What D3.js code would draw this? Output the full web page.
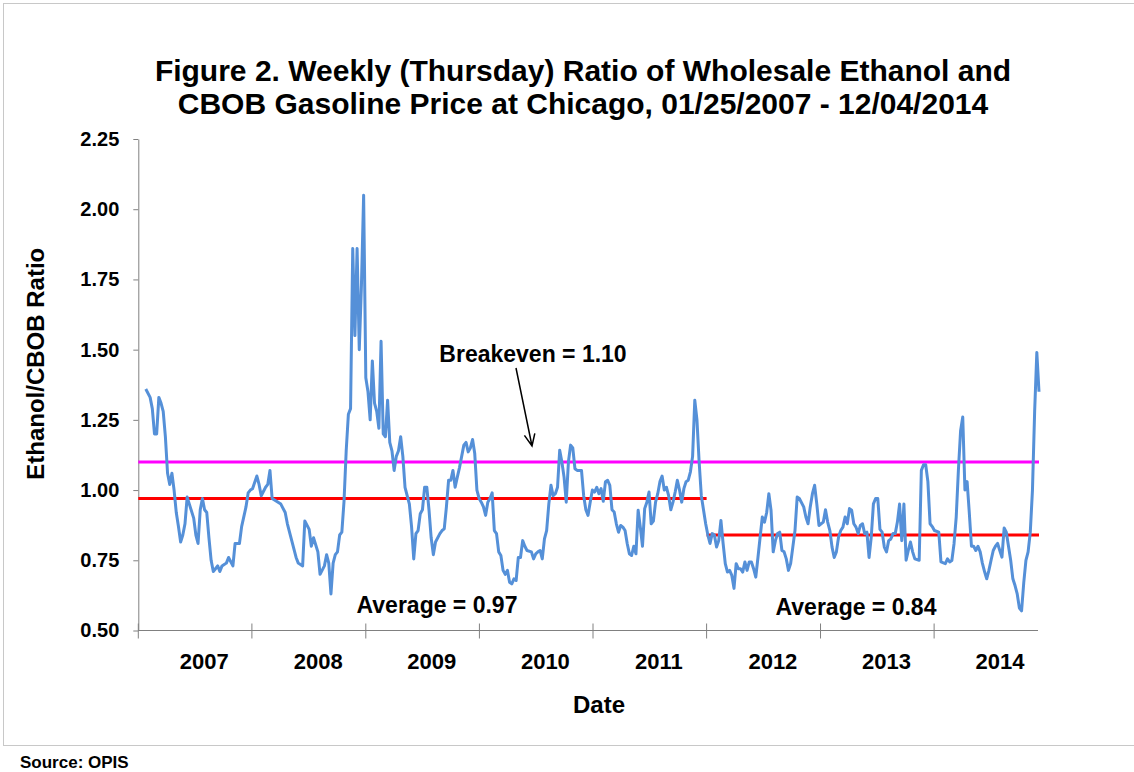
<!DOCTYPE html>
<html>
<head>
<meta charset="utf-8">
<script src="https://cdn.jsdelivr.net/npm/d3@7"></script>
<style>
  body { margin: 0; background: #fff; }
  text { font-family: "Liberation Sans", Arial, sans-serif; font-weight: bold; fill: #000; }
</style>
</head>
<body>
<svg id="chart" width="1134" height="772"></svg>
<script>
// weekly (Thursday) observations, counted in weeks from 01/25/2007
const firstThursday = new Date(2007, 0, 25)
const weekNo = [
  0, 2, 3, 4, 5, 6, 7, 8, 9, 10, 11, 12, 13, 14, 15, 16, 17, 18, 19, 20, 22, 23, 24, 25, 26, 27, 28, 29, 30, 31,
  32, 33, 34, 35, 37, 38, 40, 41, 43, 44, 46, 47, 48, 49, 51, 52, 53, 55, 56, 57, 58, 60, 62, 64, 65, 67, 69, 70,
  72, 73, 75, 76, 77, 79, 80, 82, 83, 84, 85, 86, 87, 88, 89, 90, 91, 92, 93, 94, 95, 96, 97, 98, 99, 100, 101,
  102, 103, 104, 105, 106, 107, 108, 109, 110, 111, 112, 113, 114, 115, 116, 117, 118, 119, 121, 122, 123, 124,
  125, 126, 127, 128, 129, 130, 131, 132, 133, 135, 136, 137, 138, 139, 140, 141, 142, 143, 144, 145, 146, 147,
  148, 149, 150, 151, 152, 153, 154, 155, 156, 157, 158, 159, 160, 161, 162, 163, 164, 165, 166, 167, 168, 169,
  170, 171, 172, 173, 174, 175, 177, 178, 179, 180, 181, 182, 183, 184, 185, 186, 187, 188, 189, 190, 191, 192,
  193, 194, 195, 196, 197, 198, 200, 201, 202, 203, 204, 205, 206, 207, 208, 209, 210, 211, 212, 213, 214, 215,
  216, 217, 218, 219, 220, 221, 222, 223, 224, 225, 226, 227, 228, 229, 230, 231, 232, 233, 234, 235, 236, 237,
  238, 239, 240, 241, 242, 243, 244, 245, 246, 247, 248, 249, 250, 251, 252, 253, 254, 255, 256, 257, 258, 259,
  260, 261, 262, 263, 264, 265, 266, 267, 268, 269, 270, 271, 272, 273, 274, 275, 276, 277, 278, 279, 280, 281,
  282, 283, 284, 285, 286, 287, 288, 289, 290, 291, 292, 293, 294, 295, 296, 297, 298, 299, 300, 302, 303, 304,
  305, 306, 307, 308, 309, 310, 311, 312, 313, 314, 315, 316, 317, 318, 319, 320, 321, 322, 323, 324, 325, 326,
  327, 328, 329, 330, 331, 332, 333, 334, 335, 336, 337, 338, 339, 340, 341, 342, 343, 344, 345, 346, 347, 348,
  349, 350, 351, 352, 353, 355, 356, 357, 358, 359, 360, 361, 362, 364, 365, 367, 368, 369, 370, 371, 372, 373,
  374, 375, 376, 377, 378, 379, 380, 381, 382, 383, 384, 385, 386, 387, 388, 389, 390, 391, 392, 393, 394, 395,
  396, 397, 398, 399, 400, 401, 402, 403, 404, 405, 406, 407, 408, 409, 410
]
const ratio = [
  1.36, 1.33, 1.29, 1.20, 1.20, 1.33, 1.31, 1.28, 1.19, 1.06, 1.02, 1.06, 1.00, 0.92, 0.87, 0.815, 0.84, 0.88, 0.975, 0.95, 0.90, 0.84, 0.81, 0.93, 0.97, 0.93, 0.92, 0.83, 0.75, 0.71,
  0.72, 0.73, 0.71, 0.73, 0.74, 0.76, 0.73, 0.81, 0.81, 0.87, 0.94, 0.99, 1.00, 1.005, 1.05, 1.02, 0.98, 1.01, 1.02, 1.07, 0.97, 0.96, 0.95, 0.92, 0.88, 0.82, 0.76, 0.74,
  0.73, 0.89, 0.86, 0.80, 0.83, 0.78, 0.70, 0.73, 0.77, 0.74, 0.63, 0.74, 0.77, 0.78, 0.84, 0.85, 0.96, 1.14, 1.27, 1.29, 1.86, 1.55, 1.86, 1.50, 1.73, 2.05, 1.40,
  1.35, 1.25, 1.46, 1.31, 1.28, 1.22, 1.53, 1.20, 1.19, 1.32, 1.17, 1.14, 1.07, 1.12, 1.14, 1.19, 1.12, 1.01, 0.95, 0.87, 0.755, 0.845,
  0.856, 0.916, 0.93, 1.01, 1.01, 0.93, 0.83, 0.77, 0.815, 0.845, 0.856, 0.862, 0.94, 1.035, 1.035, 1.07, 1.01, 1.046, 1.08, 1.12, 1.16, 1.17,
  1.136, 1.15, 1.18, 1.13, 1.00, 0.97, 0.957, 0.94, 0.91, 0.957, 0.97, 0.99, 0.856, 0.845, 0.78, 0.767, 0.714, 0.70, 0.714, 0.672, 0.666, 0.684,
  0.678, 0.76, 0.76, 0.82, 0.80, 0.785, 0.78, 0.755, 0.773, 0.78, 0.785, 0.755, 0.826, 0.856, 0.95, 1.017, 0.98, 0.987, 1.01, 1.142, 1.10, 1.046,
  0.957, 1.10, 1.16, 1.15, 1.076, 1.07, 1.07, 0.98, 0.93, 0.91, 0.957, 1.00, 0.993, 1.01, 0.987, 1.005, 0.96, 1.03, 1.035, 1.017, 0.93, 0.922,
  0.88, 0.85, 0.874, 0.868, 0.856, 0.809, 0.773, 0.767, 0.80, 0.773, 0.928, 0.868, 0.80, 0.934, 0.957, 0.993, 0.88, 0.89, 0.957, 0.987, 1.03, 1.05,
  1.00, 1.01, 0.98, 0.93, 0.957, 0.993, 1.035, 1.00, 0.957, 1.005, 1.03, 1.035, 1.065, 1.12, 1.32, 1.25, 1.10, 0.98, 0.93, 0.88, 0.84, 0.81,
  0.845, 0.84, 0.797, 0.82, 0.892, 0.81, 0.738, 0.708, 0.714, 0.696, 0.65, 0.738, 0.72, 0.72, 0.708, 0.744, 0.714, 0.744, 0.744, 0.72, 0.69, 0.76,
  0.833, 0.904, 0.886, 0.92, 0.987, 0.928, 0.78, 0.82, 0.845, 0.85, 0.785, 0.78, 0.755, 0.714, 0.738, 0.797, 0.856, 0.975, 0.97, 0.94, 0.904, 0.88,
  0.94, 0.987, 1.017, 0.951, 0.874, 0.88, 0.886, 0.93, 0.886, 0.856, 0.797, 0.76, 0.78, 0.833, 0.856, 0.868, 0.904, 0.88, 0.934, 0.928, 0.88, 0.868,
  0.845, 0.874, 0.88, 0.845, 0.85, 0.76, 0.833, 0.951, 0.97, 0.97, 0.86, 0.85, 0.797, 0.78, 0.82, 0.826, 0.845, 0.845, 0.886, 0.95, 0.82, 0.95,
  0.75, 0.785, 0.815, 0.78, 0.755, 0.75, 1.07, 1.09, 1.09, 1.03, 0.88, 0.87, 0.856, 0.85, 0.744, 0.738, 0.755, 0.744, 0.749, 0.809, 0.904, 1.07,
  1.21, 1.26, 1.00, 1.03, 0.92, 0.80, 0.80, 0.785, 0.80, 0.78, 0.74, 0.71, 0.684, 0.714, 0.75, 0.785, 0.80, 0.81, 0.785, 0.761, 0.865, 0.85,
  0.80, 0.75, 0.684, 0.66, 0.63, 0.58, 0.57, 0.67, 0.75, 0.78, 0.85, 1.00, 1.28, 1.49, 1.35
]

const years = [2007, 2008, 2009, 2010, 2011, 2012, 2013, 2014]
const yTicks = [0.50, 0.75, 1.00, 1.25, 1.50, 1.75, 2.00, 2.25]
const breakeven = 1.10
const avgPeriods = [
  { from: new Date(2007, 0, 1), to: new Date(2012, 0, 1), value: 0.97 },
  { from: new Date(2012, 0, 1), to: new Date(2014, 11, 4), value: 0.84 }
]
const titleLines = [
  'Figure 2. Weekly (Thursday) Ratio of Wholesale Ethanol and',
  'CBOB Gasoline Price at Chicago, 01/25/2007 - 12/04/2014'
]

const colors = {
  line: '#5590D8',
  breakeven: '#FF00FF',
  average: '#FF0000',
  axis: '#808080',
  frame: '#c8c8c8'
}

const width = 1134
const plot = { left: 138.3, right: 1039, top: 139, bottom: 630.5 }

const svg = d3.select('#chart')

// outer chart frame
svg.append('rect')
  .attr('x', 3.5).attr('y', 3.5)
  .attr('width', width + 10).attr('height', 742)
  .attr('fill', 'none').attr('stroke', colors.frame)

const x = d3.scaleTime()
  .domain([new Date(2007, 0, 1), new Date(2014, 11, 4)])
  .range([plot.left, plot.right])

const y = d3.scaleLinear()
  .domain([0.5, 2.25])
  .range([plot.bottom, plot.top])

const series = weekNo.map((w, i) => ({ date: d3.timeDay.offset(firstThursday, w * 7), value: ratio[i] }))

// title
svg.append('g').selectAll('text')
  .data(titleLines)
  .join('text')
  .attr('x', 583)
  .attr('y', (d, i) => 81 + i * 33)
  .attr('text-anchor', 'middle')
  .style('font-size', '30px')
  .text(d => d)

// y axis
const yAxis = svg.append('g')
  .attr('transform', `translate(${plot.left},0)`)
  .call(d3.axisLeft(y).tickValues(yTicks).tickFormat(d3.format('.2f')).tickSize(5).tickSizeOuter(0).tickPadding(14))
yAxis.select('.domain').attr('stroke', colors.axis)
yAxis.selectAll('.tick line').attr('stroke', colors.axis)
yAxis.selectAll('.tick text').style('font-size', '20px').attr('font-family', null)

// x axis: year boundaries as crossing ticks, labels inside each year
const xAxis = svg.append('g')
xAxis.append('line')
  .attr('x1', plot.left).attr('x2', plot.right - 1)
  .attr('y1', plot.bottom).attr('y2', plot.bottom)
  .attr('stroke', colors.axis)
xAxis.selectAll('line.tick')
  .data(years)
  .join('line')
  .attr('class', 'tick')
  .attr('x1', d => x(new Date(d, 0, 1))).attr('x2', d => x(new Date(d, 0, 1)))
  .attr('y1', plot.bottom - 7).attr('y2', plot.bottom + 8)
  .attr('stroke', colors.axis)
xAxis.selectAll('text')
  .data(years)
  .join('text')
  .attr('x', d => x(new Date(d, 7, 1)))
  .attr('y', 669)
  .attr('text-anchor', 'middle')
  .style('font-size', '22px')
  .text(d => d)

// axis titles
svg.append('text')
  .attr('transform', `translate(44,${(plot.top + plot.bottom) / 2 - 21}) rotate(-90)`)
  .attr('text-anchor', 'middle')
  .style('font-size', '24px')
  .text('Ethanol/CBOB Ratio')

svg.append('text')
  .attr('x', 599).attr('y', 713)
  .attr('text-anchor', 'middle')
  .style('font-size', '24px')
  .text('Date')

svg.append('text')
  .attr('x', 20).attr('y', 768)
  .style('font-size', '17px')
  .text('Source: OPIS')

// reference lines
svg.append('line')
  .attr('x1', plot.left).attr('x2', plot.right)
  .attr('y1', y(breakeven)).attr('y2', y(breakeven))
  .attr('stroke', colors.breakeven).attr('stroke-width', 3)

svg.append('g').selectAll('line')
  .data(avgPeriods)
  .join('line')
  .attr('x1', d => x(d.from)).attr('x2', d => x(d.to))
  .attr('y1', d => y(d.value)).attr('y2', d => y(d.value))
  .attr('stroke', colors.average).attr('stroke-width', 3)

// ratio series
const line = d3.line()
  .x(d => x(d.date))
  .y(d => y(d.value))

svg.append('path')
  .datum(series)
  .attr('fill', 'none')
  .attr('stroke', colors.line)
  .attr('stroke-width', 3)
  .attr('stroke-linejoin', 'round')
  .attr('d', line)

// annotations
svg.append('text')
  .attr('x', 533).attr('y', 362)
  .attr('text-anchor', 'middle')
  .style('font-size', '23px')
  .text(`Breakeven = ${breakeven.toFixed(2)}`)

const arrow = { x1: 516, y1: 368, x2: 532, y2: 446 }
const ang = Math.atan2(arrow.y2 - arrow.y1, arrow.x2 - arrow.x1)
const head = 13
const spread = 0.42
svg.append('path')
  .attr('fill', 'none').attr('stroke', '#000').attr('stroke-width', 1.5)
  .attr('d', `M${arrow.x1},${arrow.y1}L${arrow.x2},${arrow.y2}` +
    `M${arrow.x2 - head * Math.cos(ang - spread)},${arrow.y2 - head * Math.sin(ang - spread)}` +
    `L${arrow.x2},${arrow.y2}` +
    `L${arrow.x2 - head * Math.cos(ang + spread)},${arrow.y2 - head * Math.sin(ang + spread)}`)

svg.append('g').selectAll('text')
  .data(avgPeriods)
  .join('text')
  .attr('x', (d, i) => [437, 856][i])
  .attr('y', (d, i) => [613, 615][i])
  .attr('text-anchor', 'middle')
  .style('font-size', '23px')
  .text(d => `Average = ${d.value.toFixed(2)}`)
</script>
</body>
</html>
